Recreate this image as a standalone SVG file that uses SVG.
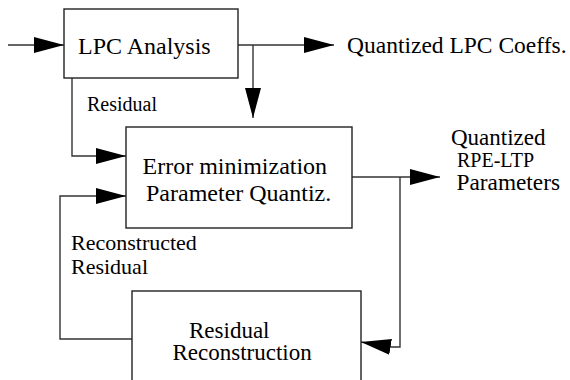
<svg xmlns="http://www.w3.org/2000/svg" width="570" height="380" viewBox="0 0 570 380" font-family="Liberation Serif, Times New Roman, serif">
<style>
.box{fill:#fff;stroke:#222;stroke-width:1.4}
.ln{fill:none;stroke:#333;stroke-width:1.4}
.t{fill:#000}
</style>
<defs>
<marker id="ah" markerUnits="userSpaceOnUse" markerWidth="31" markerHeight="17" refX="30" refY="8" orient="auto" viewBox="0 0 31 17">
<path d="M0,0 L30,8 L0,16 z" fill="#000"/>
</marker>
</defs>
<rect width="570" height="380" fill="#fff"/>
<g id="connectors">
<path class="ln" d="M8,45 H64" marker-end="url(#ah)"/>
<path class="ln" d="M238,45 H334" marker-end="url(#ah)"/>
<path class="ln" d="M253,45 V118" marker-end="url(#ah)"/>
<path class="ln" d="M72,78 V156 H126" marker-end="url(#ah)"/>
<path class="ln" d="M132,339 H60 V196 H126" marker-end="url(#ah)"/>
<path class="ln" d="M352,177 H440" marker-end="url(#ah)"/>
<path class="ln" d="M400,177 V347 H391 L361,342" marker-end="url(#ah)"/>
</g>
<g id="lpc">
<rect class="box" x="64" y="9" width="174" height="69"/>
<text class="t" x="78" y="54" font-size="24" font-family="Liberation Serif, serif">LPC Analysis</text>
</g>
<g id="errmin">
<rect class="box" x="126" y="127" width="226" height="101"/>
<text class="t" x="142.5" y="174" font-size="24" font-family="Liberation Serif, serif">Error minimization</text>
<text class="t" x="146" y="201" font-size="24" font-family="Liberation Serif, serif">Parameter Quantiz.</text>
</g>
<g id="resrec">
<rect class="box" x="132" y="291" width="229" height="100"/>
<text class="t" x="189" y="338" font-size="23" font-family="Liberation Serif, serif">Residual</text>
<text class="t" x="172.5" y="360" font-size="23" font-family="Liberation Serif, serif">Reconstruction</text>
</g>
<g id="labels" font-family="Liberation Serif, serif">
<text class="t" x="347" y="53" font-size="23.5">Quantized LPC Coeffs.</text>
<text class="t" x="87" y="111" font-size="20">Residual</text>
<text class="t" x="451" y="145" font-size="23">Quantized</text>
<text class="t" x="457" y="167" font-size="20">RPE-LTP</text>
<text class="t" x="456.5" y="190" font-size="23.3">Parameters</text>
<text class="t" x="71" y="250" font-size="22">Reconstructed</text>
<text class="t" x="71" y="274" font-size="22">Residual</text>
</g>
</svg>
